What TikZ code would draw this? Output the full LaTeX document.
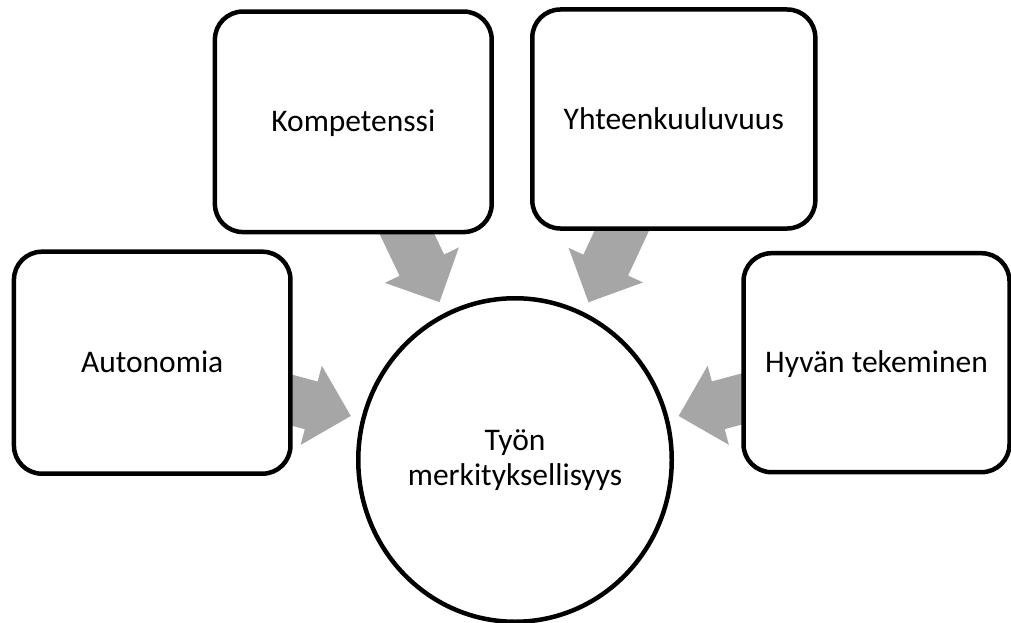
\documentclass[tikz,border=0pt]{standalone}
\usepackage{fontspec}
\setmainfont{Carlito}
\usetikzlibrary{calc,shapes.geometric}
\definecolor{arrowgray}{RGB}{166,166,166}
\pgfdeclarelayer{back}
\pgfsetlayers{back,main}
\tikzset{
  card/.style={draw=black, line width=4.5pt, fill=white, rounded corners=28pt,
    inner sep=0pt, outer sep=0pt, font=\fontsize{31.5}{35}\selectfont,
    text height=20pt, text depth=0pt},
  hub/.style={ellipse, draw=black, line width=4.5pt, fill=white, inner sep=0pt,
    outer sep=0pt, minimum width=313.5pt, minimum height=323.5pt},
  hubtext/.style={font=\fontsize{31.5}{35}\selectfont, align=center, inner sep=0pt},
  flow/.style={fill=arrowgray, draw=none},
}
\begin{document}
\begin{tikzpicture}[x=1pt,y=-1pt]
\useasboundingbox (0,0) rectangle (1011,623);

% the four factors
\node[card, minimum width=276.5pt, minimum height=222pt] (auto) at (152.2,362.7) {Autonomia};
\node[card, minimum width=276.8pt, minimum height=220.5pt] (komp) at (353.3,121.8) {Kompetenssi};
\node[card, minimum width=283pt, minimum height=219pt] (yht) at (673.8,119) {Yhteenkuuluvuus};
\node[card, minimum width=266pt, minimum height=219pt] (hyva) at (876.5,362.7) {Hyvän tekeminen};

% the centre
\node[hub, label={[hubtext]center:Työn\\merkityksellisyys}] (work) at (515,460) {};

% block arrows from each factor towards the centre
\begin{pgfonlayer}{back}
\foreach \b/\d in {auto/170pt, komp/175pt, yht/174pt, hyva/169.5pt}{
  \coordinate (tip) at ($(work.center)!\d!(\b.center)$);
  \coordinate (base) at ($(tip)!41pt!(\b.center)$);
  \coordinate (tail) at ($(tip)!110pt!(\b.center)$);
  \fill[flow] (tip) -- ($(base)!41pt!90:(tip)$) -- ($(base)!24.7pt!90:(tip)$)
    -- ($(tail)!24.7pt!90:(base)$) -- ($(tail)!24.7pt!-90:(base)$)
    -- ($(base)!24.7pt!-90:(tip)$) -- ($(base)!41pt!-90:(tip)$) -- cycle;
}
\end{pgfonlayer}
\end{tikzpicture}
\end{document}
